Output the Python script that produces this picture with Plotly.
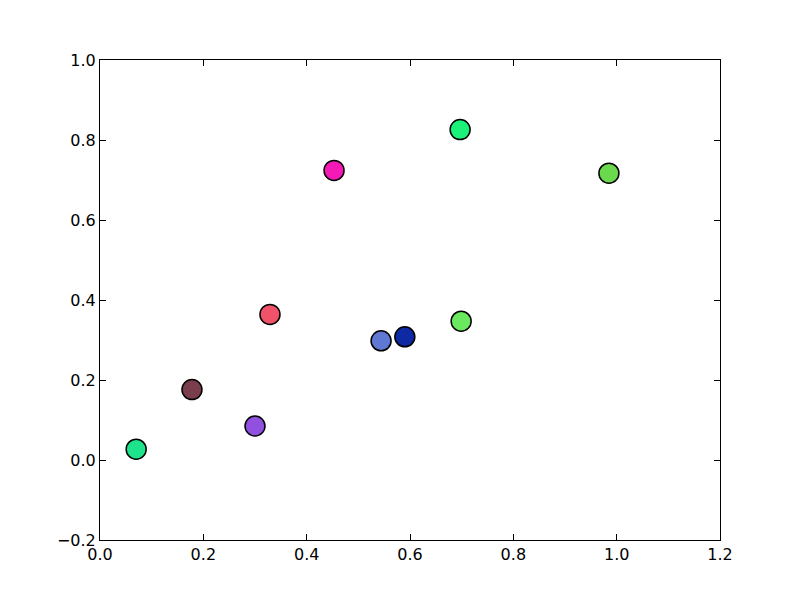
import plotly.graph_objects as go

# point positions
x_vals = [0.070, 0.178, 0.300, 0.329, 0.453, 0.544, 0.590, 0.697, 0.699, 0.985]
y_vals = [0.027, 0.176, 0.085, 0.364, 0.724, 0.298, 0.308, 0.826, 0.347, 0.717]
colors = ['#1de38a', '#7a3d4b', '#9150e0', '#ef5269', '#f51ab5',
          '#5f78d4', '#0d2aa4', '#1af27a', '#6ae860', '#6bd94e']

x_ticks = [0.0, 0.2, 0.4, 0.6, 0.8, 1.0, 1.2]
y_ticks = [-0.2, 0.0, 0.2, 0.4, 0.6, 0.8, 1.0]

fig = go.Figure()
fig.add_trace(go.Scatter(x=x_vals, y=y_vals, mode='markers',
                         marker=dict(size=20, color=colors,
                                     line=dict(color='black', width=1.5))))

axis_style = dict(showgrid=False, zeroline=False, showline=True, mirror='ticks',
                  linecolor='black', linewidth=1, ticks='inside', ticklen=6,
                  tickcolor='black', tickformat='.1f')

fig.update_xaxes(range=[0, 1.2], tickvals=x_ticks, **axis_style)
fig.update_yaxes(range=[-0.2, 1.0], tickvals=y_ticks,
                 ticktext=[f'{v:.1f}'.replace('-', '\u2212') for v in y_ticks], **axis_style)

# page body adds ~8px offset, so shift margins to line up the plot box
fig.update_layout(width=800, height=600, showlegend=False,
                  plot_bgcolor='white', paper_bgcolor='white',
                  margin=dict(l=92, r=88, t=52, b=68),
                  font=dict(family='DejaVu Sans', size=16, color='black'))

fig.write_html("out.html")
